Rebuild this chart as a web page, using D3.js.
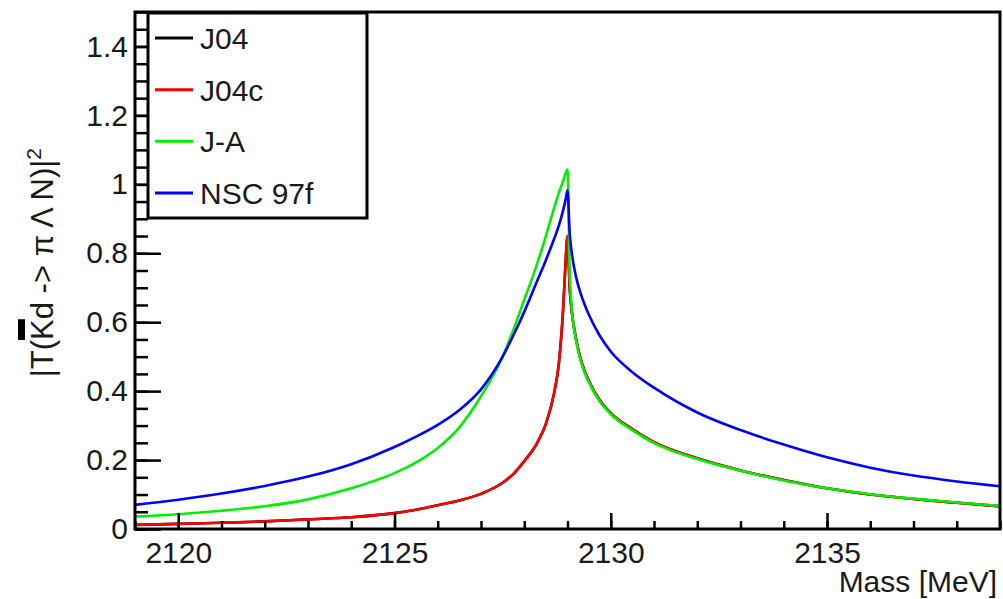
<!DOCTYPE html>
<html>
<head>
<meta charset="utf-8">
<script src="https://cdn.jsdelivr.net/npm/d3@7"></script>
<style>
  body { margin: 0; background: #fff; }
  text { font-family: "Liberation Sans", Arial, sans-serif; fill: #1a1a1a; }
</style>
</head>
<body>
<div id="chart"></div>
<script>
// mass grid (MeV)
const mass = [2119, 2120, 2121, 2122, 2123, 2124, 2125, 2125.5, 2126, 2126.5, 2127, 2127.5, 2127.75,
  2128, 2128.3, 2128.5, 2128.7, 2128.8, 2128.9, 2128.95, 2129.0,
  2129.05, 2129.1, 2129.2, 2129.3, 2129.4, 2129.5, 2129.75, 2130, 2130.5, 2131,
  2132, 2133, 2134, 2135, 2136, 2137, 2138, 2139];

const j04 = [0.012, 0.015, 0.018, 0.022, 0.028, 0.034, 0.046, 0.056, 0.069, 0.083, 0.102, 0.134, 0.160,
  0.197, 0.25, 0.305, 0.40, 0.48, 0.64, 0.76, 0.85,
  0.70, 0.63, 0.55, 0.495, 0.457, 0.428, 0.373, 0.336, 0.290, 0.252,
  0.205, 0.170, 0.142, 0.118, 0.100, 0.087, 0.076, 0.066];

const j04c = [0.012, 0.015, 0.018, 0.022, 0.028, 0.034, 0.046, 0.056, 0.069, 0.083, 0.102, 0.134, 0.160,
  0.197, 0.25, 0.305, 0.40, 0.48, 0.64, 0.76, 0.85,
  0.70, 0.63, 0.55, 0.495, 0.457, 0.428, 0.373, 0.336, 0.290, 0.252,
  0.205, 0.170, 0.142, 0.118, 0.100, 0.087, 0.076, 0.066];

const ja = [0.036, 0.043, 0.053, 0.066, 0.086, 0.118, 0.162, 0.193, 0.235, 0.295, 0.385, 0.50, 0.578,
  0.665, 0.77, 0.85, 0.935, 0.975, 1.01, 1.03, 1.043,
  0.75, 0.64, 0.545, 0.49, 0.452, 0.424, 0.369, 0.333, 0.287, 0.249,
  0.203, 0.169, 0.141, 0.118, 0.101, 0.088, 0.077, 0.067];

const nsc97f = [0.070, 0.085, 0.103, 0.125, 0.152, 0.188, 0.238, 0.268, 0.302, 0.345, 0.405, 0.50, 0.562,
  0.630, 0.72, 0.78, 0.845, 0.88, 0.925, 0.952, 0.983,
  0.86, 0.80, 0.73, 0.685, 0.65, 0.62, 0.56, 0.515, 0.455, 0.41,
  0.338, 0.287, 0.245, 0.208, 0.178, 0.155, 0.138, 0.124];

const seriesNames = ["J04", "J04c", "J-A", "NSC 97f"];
const seriesColors = ["#000000", "#ff0000", "#00ee00", "#0000ff"];
const seriesValues = [j04, j04c, ja, nsc97f];

const xTicks = [2120, 2125, 2130, 2135];
const yTicks = [0, 0.2, 0.4, 0.6, 0.8, 1, 1.2, 1.4];

const width = 1003;
const height = 599;
const margin = {top: 12, left: 135, bottom: 70, right: 3};
const iwidth = width - margin.left - margin.right;
const iheight = height - margin.top - margin.bottom;

const svg = d3.select("#chart").append("svg")
  .attr("width", width)
  .attr("height", height);

const g = svg.append("g").attr("transform", `translate(${margin.left},${margin.top})`);

const x = d3.scaleLinear().domain([2119, 2139]).range([0, iwidth]);
const y = d3.scaleLinear().domain([0, 1.5]).range([iheight, 0]);

g.append("clipPath").attr("id", "clip")
  .append("rect").attr("width", iwidth).attr("height", iheight);

// curves
const line = d3.line()
  .x(d => x(d[0]))
  .y(d => y(d[1]))
  .curve(d3.curveMonotoneX);

const curves = g.append("g").attr("clip-path", "url(#clip)");
seriesValues.forEach((vals, i) => {
  curves.append("path")
    .datum(mass.map((m, k) => [m, vals[k]]))
    .attr("fill", "none")
    .attr("stroke", seriesColors[i])
    .attr("stroke-width", 2.6)
    .attr("d", line);
});

// frame
g.append("rect")
  .attr("width", iwidth).attr("height", iheight)
  .attr("fill", "none").attr("stroke", "#000").attr("stroke-width", 3);

// x axis (ticks pointing up into the frame)
const xMinor = d3.range(2119, 2139.01, 1);
g.append("g")
  .attr("transform", `translate(0,${iheight})`)
  .call(d3.axisTop(x).tickValues(xMinor).tickSize(8).tickFormat(""))
  .call(a => a.select(".domain").remove())
  .call(a => a.selectAll("line").attr("stroke-width", 2.5));

g.append("g")
  .attr("transform", `translate(0,${iheight})`)
  .call(d3.axisTop(x).tickValues(xTicks).tickSize(16).tickFormat(""))
  .call(a => a.select(".domain").remove())
  .call(a => a.selectAll("line").attr("stroke-width", 2.5));

g.append("g")
  .attr("transform", `translate(0,${iheight})`)
  .call(d3.axisBottom(x).tickValues(xTicks).tickSize(0).tickPadding(13).tickFormat(d3.format("d")))
  .call(a => a.select(".domain").remove())
  .call(a => a.selectAll("text").style("font-size", "30px").attr("fill", "#1a1a1a"));

// y axis (ticks pointing right into the frame)
const yMinor = d3.range(0, 1.5001, 0.05);
g.append("g")
  .call(d3.axisRight(y).tickValues(yMinor).tickSize(13).tickFormat(""))
  .call(a => a.select(".domain").remove())
  .call(a => a.selectAll("line").attr("stroke-width", 2.5));

g.append("g")
  .call(d3.axisRight(y).tickValues(yTicks).tickSize(26).tickFormat(""))
  .call(a => a.select(".domain").remove())
  .call(a => a.selectAll("line").attr("stroke-width", 2.5));

g.append("g")
  .call(d3.axisLeft(y).tickValues(yTicks).tickSize(0).tickPadding(7).tickFormat(d3.format("~g")))
  .call(a => a.select(".domain").remove())
  .call(a => a.selectAll("text").style("font-size", "30px").attr("fill", "#1a1a1a"));

// axis titles
svg.append("text")
  .attr("x", 997).attr("y", 592)
  .attr("text-anchor", "end")
  .style("font-size", "30px")
  .text("Mass [MeV]");

const yTitleG = svg.append("g").attr("transform", "translate(53,148) rotate(-90)");
const yTitle = yTitleG.append("text")
  .attr("text-anchor", "end")
  .style("font-size", "31px");
yTitle.append("tspan").text("|T(Kd -> π Λ N)|");
yTitle.append("tspan").attr("dy", -12).style("font-size", "21px").text("2");

// bar over the K, drawn as a solid block like the original
const kStart = yTitle.node().getStartPositionOfChar(3);
const kEnd = yTitle.node().getEndPositionOfChar(3);
yTitleG.append("rect")
  .attr("x", kStart.x).attr("y", -35)
  .attr("width", kEnd.x - kStart.x).attr("height", 7)
  .attr("fill", "#000");

// legend
const legend = svg.append("g");
legend.append("rect")
  .attr("x", 148).attr("y", 13).attr("width", 219).attr("height", 205)
  .attr("fill", "#fff").attr("stroke", "#000").attr("stroke-width", 3);

const legendY = d3.scalePoint().domain(seriesNames).range([38, 193]);
seriesNames.forEach((name, i) => {
  legend.append("line")
    .attr("x1", 155).attr("x2", 193)
    .attr("y1", legendY(name)).attr("y2", legendY(name))
    .attr("stroke", seriesColors[i]).attr("stroke-width", 3);
  legend.append("text")
    .attr("x", 200).attr("y", legendY(name) + 11)
    .style("font-size", "30px")
    .text(name);
});
</script>
</body>
</html>
